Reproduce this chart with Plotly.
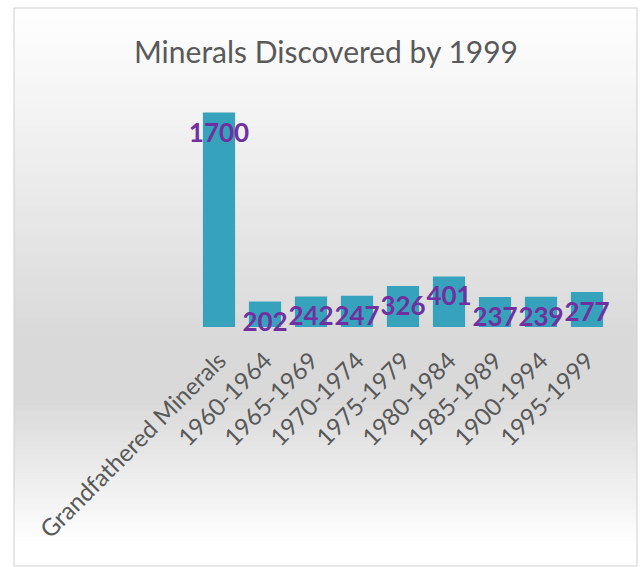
import plotly.graph_objects as go

categories = ["Grandfathered Minerals", "1960-1964", "1965-1969", "1970-1974", "1975-1979",
              "1980-1984", "1985-1989", "1900-1994", "1995-1999"]
values = [1700, 202, 242, 247, 326, 401, 237, 239, 277]
title_text = "Minerals Discovered by 1999"

W, H = 640, 567
L, R, T, B = 196, 30, 100, 240
pw, ph = W - L - R, H - T - B

def px(x):
    return (x - L) / pw

def py(y):
    return (H - B - y) / ph

shapes = []
# background gradient bands (white -> grey -> white), overlapping to avoid seams
n = 90
y0, y1 = 8, 566
for i in range(n):
    ya = y0 + (y1 - y0) * i / n
    yb = y0 + (y1 - y0) * (i + 1) / n
    ym = (ya + yb) / 2
    if ym < 340:
        g = 255 - (255 - 217) * (ym - 8) / (340 - 8)
    elif ym < 400:
        g = 217
    else:
        g = 217 + (255 - 217) * (ym - 400) / (545 - 400)
    g = int(max(0, min(255, round(g))))
    shapes.append(dict(type="rect", xref="paper", yref="paper", layer="below",
                       x0=px(14), x1=px(637), y0=py(min(yb + 3, y1)), y1=py(ya),
                       fillcolor=f"rgb({g},{g},{g})", line=dict(width=0)))
shapes.append(dict(type="rect", xref="paper", yref="paper", layer="below",
                   x0=px(14), x1=px(637), y0=py(566), y1=py(8),
                   fillcolor="rgba(0,0,0,0)", line=dict(color="#cfcfcf", width=1)))

fig = go.Figure(go.Bar(
    x=categories, y=values,
    marker=dict(color="#37a2bc", line=dict(width=0)),
    text=[str(v) for v in values],
    textposition="inside",
    insidetextanchor="end",
    constraintext="none",
    textangle=0,
    textfont=dict(family="Lato", size=26, color="#7030a0", weight="bold"),
    cliponaxis=False,
))

fig.update_layout(
    width=W, height=H,
    margin=dict(l=L, r=R, t=T, b=B),
    paper_bgcolor="white", plot_bgcolor="rgba(0,0,0,0)",
    bargap=0.3,
    showlegend=False,
    shapes=shapes,
    title=dict(text=title_text, x=326 / W, xanchor="center", y=1 - 52 / H, yanchor="middle",
               font=dict(family="Lato", size=30, color="#595959")),
    xaxis=dict(tickangle=-45, tickfont=dict(family="Lato", size=24, color="#595959"),
               ticklabelstandoff=14,
               showline=False, showgrid=False, ticks="", automargin=False),
    yaxis=dict(range=[0, 1800], visible=False, showgrid=False, automargin=False),
)

fig.write_html("out.html")
